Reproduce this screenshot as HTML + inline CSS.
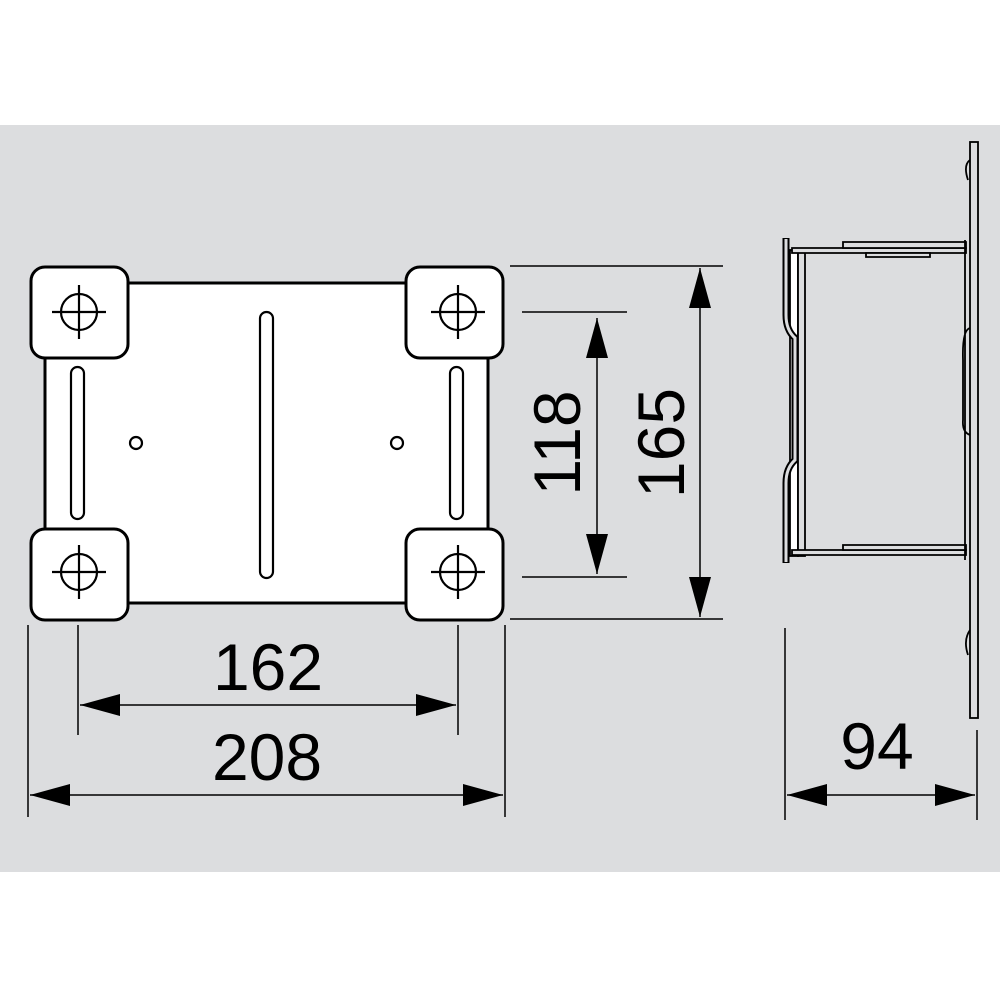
<!DOCTYPE html>
<html><head><style>
html,body{margin:0;padding:0;background:#fff;width:1000px;height:1000px;overflow:hidden}
</style></head><body>
<svg width="1000" height="1000" viewBox="0 0 1000 1000" xmlns="http://www.w3.org/2000/svg">
<defs>
<marker id="a" viewBox="0 0 40 22" refX="40" refY="11" markerWidth="40" markerHeight="22" markerUnits="userSpaceOnUse" orient="auto"><path d="M0,0 L40,11 L0,22 Z" fill="#000"/></marker>
<marker id="b" viewBox="0 0 40 22" refX="0" refY="11" markerWidth="40" markerHeight="22" markerUnits="userSpaceOnUse" orient="auto"><path d="M40,0 L0,11 L40,22 Z" fill="#000"/></marker>
</defs>
<rect x="0" y="125" width="1000" height="747" fill="#dcdddf"/>
<g stroke="#000" stroke-width="3" fill="#fff">
<rect x="45" y="283" width="443" height="320"/>
<rect x="31" y="267" width="97" height="91" rx="14"/>
<rect x="406" y="267" width="97" height="91" rx="14"/>
<rect x="31" y="529" width="97" height="91" rx="14"/>
<rect x="406" y="529" width="97" height="91" rx="14"/>
</g>
<g stroke="#000" stroke-width="2.2" fill="none">
<rect x="71" y="367" width="13" height="152" rx="6.5"/>
<rect x="450" y="367" width="13" height="152" rx="6.5"/>
<rect x="260" y="312" width="13" height="266" rx="6.5"/>
<circle cx="136" cy="443" r="6"/>
<circle cx="397" cy="443" r="6"/>
<circle cx="79" cy="312" r="18"/><path d="M52,312H106M79,285V339"/>
<circle cx="458" cy="312" r="18"/><path d="M431,312H485M458,285V339"/>
<circle cx="79" cy="572" r="18"/><path d="M52,572H106M79,545V599"/>
<circle cx="458" cy="572" r="18"/><path d="M431,572H485M458,545V599"/>
</g>
<g stroke="#000" stroke-width="1.5" fill="none">
<path d="M522,312H627M522,577H627M510,266H723M510,619H723"/>
<path d="M78,625V735M458,625V735M28,625V817M505,625V817"/>
<path d="M785,628V820M977,730V820"/>
<line x1="597" y1="318" x2="597" y2="574" marker-start="url(#b)" marker-end="url(#a)"/>
<line x1="700" y1="268" x2="700" y2="617" marker-start="url(#b)" marker-end="url(#a)"/>
<line x1="80" y1="705" x2="456" y2="705" marker-start="url(#b)" marker-end="url(#a)"/>
<line x1="30" y1="795" x2="503" y2="795" marker-start="url(#b)" marker-end="url(#a)"/>
<line x1="787" y1="795" x2="975" y2="795" marker-start="url(#b)" marker-end="url(#a)"/>
</g>
<g font-family="Liberation Sans, sans-serif" font-size="66" fill="#000" text-anchor="middle">
<text x="268" y="690">162</text>
<text x="267" y="780">208</text>
<text x="877" y="769">94</text>
<text transform="translate(580,443) rotate(-90)">118</text>
<text transform="translate(684,443) rotate(-90)">165</text>
</g>
<!-- side view -->
<g stroke="#000" stroke-width="1.8" fill="#dcdddf">
<rect x="970" y="142" width="8" height="576"/>
<rect x="790" y="250" width="8" height="306" fill="#fff"/>
<rect x="798" y="252" width="7" height="304"/>
<path d="M792,248H966V253H792Z"/>
<path d="M843,242H966V248H843Z"/>
<path d="M866,253H930V257H866Z"/>
<path d="M792,550H966V555H792Z"/>
<path d="M843,545H966V550H843Z"/>
<path d="M965,240V560M963,360Q962,330 970,328M963,360V420Q962,432 970,435" fill="none"/>
<path d="M970,160Q963,165 968,180M970,630Q963,640 968,655" fill="none"/>
</g>
<path d="M786,238V315Q786,330 795,338V460Q786,468 786,483V563" fill="none" stroke="#000" stroke-width="7"/>
<path d="M786,239V315Q786,330 795,338V460Q786,468 786,483V562" fill="none" stroke="#dcdddf" stroke-width="3"/>
</svg>
</body></html>
